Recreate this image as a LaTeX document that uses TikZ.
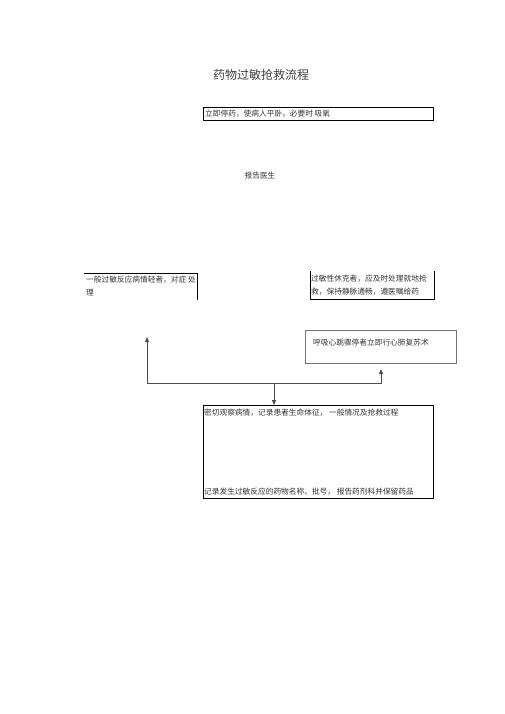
\documentclass[tikz,border=0pt]{standalone}
\usepackage{fontspec}
\setmainfont{Noto Sans CJK SC}
\usetikzlibrary{arrows.meta}
\begin{document}
\begin{tikzpicture}[x=1pt,y=-1pt,
  txt/.style={font=\fontsize{7.7}{13.5}\selectfont, inner sep=0pt, anchor=west, text=black!80, align=left},
  boxline/.style={draw=black, line width=0.9pt},
  greybox/.style={draw=black!55, line width=0.8pt},
  conn/.style={draw=black!70, line width=0.8pt},
  arr/.style={conn, -{Triangle[width=4pt,length=5pt]}}]
\useasboundingbox (0,0) rectangle (505,714);
% title
\node[font=\fontsize{12}{14}\selectfont, text=black!75, inner sep=0pt] (title) at (261,75) {药物过敏抢救流程};
% box 1
\node[boxline, minimum width=230pt, minimum height=13pt, anchor=north west, inner sep=0pt] (b1) at (203,107) {};
\node[txt] (t1) at (205,113.5) {立即停药，使病人平卧，必要时 吸氧};
% report doctor
\node[txt, anchor=center] (doc) at (260,176) {报告医生};
% left box
\node[inner sep=0pt, minimum width=113pt, minimum height=27pt, anchor=north west] (lb) at (84,273) {};
\node[txt, anchor=north west] (lt) at (86,275.5) {一般过敏反应病情轻者，对症 处\\理};
\draw[boxline] (lb.north west) -- (lb.north east) -- (lb.south east);
% right box
\node[inner sep=0pt, minimum width=124pt, minimum height=28pt, anchor=north west] (rb) at (310,271) {};
\node[txt, anchor=north west] (rtx) at (311,274.5) {过敏性休克者，应及时处理就地抢\\救，保持静脉通畅，遵医嘱给药};
\draw[boxline] (rb.north west) -- (rb.south west) -- (rb.south east) -- (rb.north east);
% cpr box
\node[greybox, minimum width=151pt, minimum height=33pt, anchor=north west, inner sep=0pt] (cpr) at (305,330) {};
\node[txt] (ctx) at (313,343) {呼吸心跳骤停者立即行心肺复苏术};
% bottom box
\node[boxline, minimum width=230pt, minimum height=93pt, anchor=north west, inner sep=0pt] (bb) at (203,405) {};
\node[txt] (bt1) at (204,413) {密切观察病情，记录患者生命体征， 一般情况及抢救过程};
\node[txt] (bt2) at (204,492) {记录发生过敏反应的药物名称、批号， 报告药剂科并保留药品};
% connectors
\coordinate (j) at (274,383);
\coordinate (jl) at (147,383);
\coordinate (jr) at (381,383);
\coordinate (lend) at (147,337);
\coordinate (rend) at (381,369);
\draw[arr] (j) -- (jl) -- (lend);
\draw[arr] (j) -- (jr) -- (rend);
\draw[arr] (j) -- (j |- bb.north);
\end{tikzpicture}
\end{document}
